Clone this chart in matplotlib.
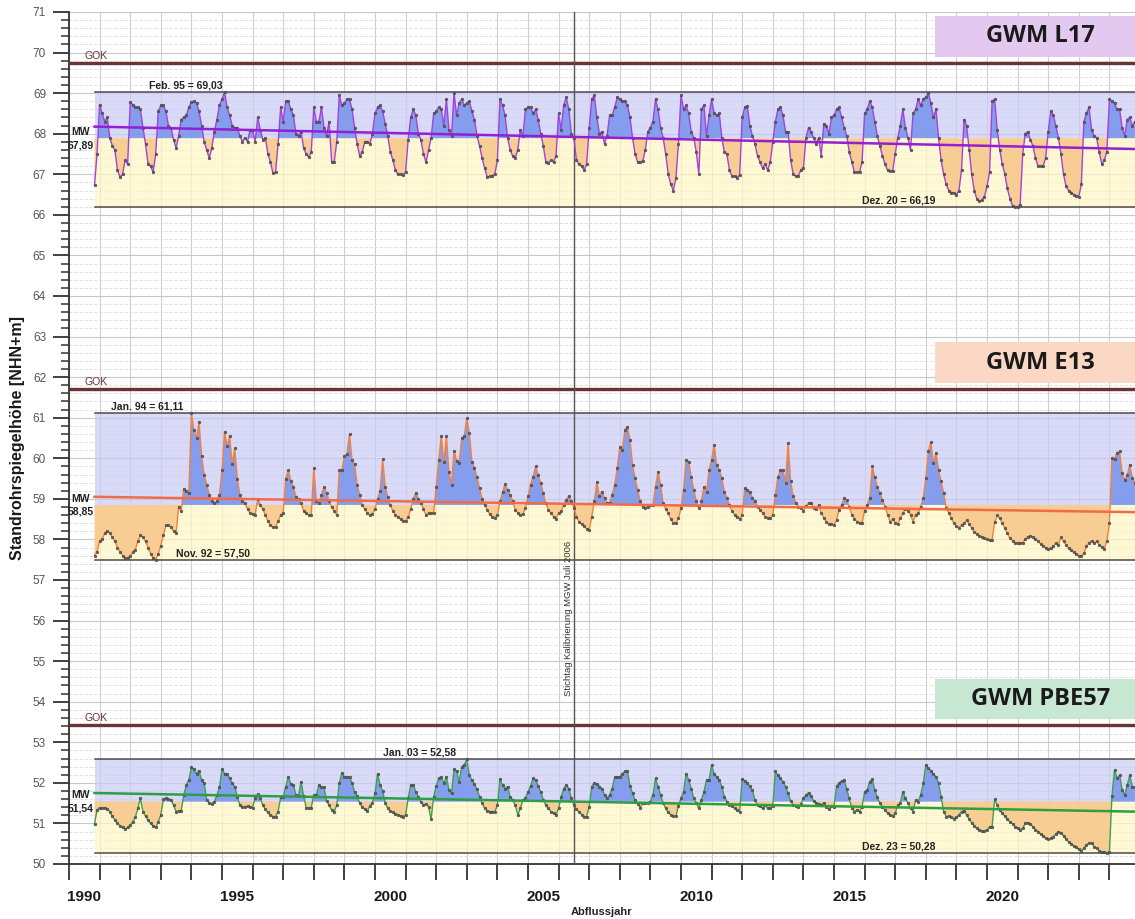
import numpy as np
import matplotlib
matplotlib.use("Agg")
import matplotlib.pyplot as plt
from matplotlib.patches import Rectangle
from matplotlib.ticker import MultipleLocator, FixedLocator

plt.rcParams['font.family'] = ['Liberation Sans', 'DejaVu Sans']

# monthly readings, first value Nov 1990, one row per Abflussjahr (Nov..Oct)
start_year = 1990 + 10 / 12.

l17_levels = [
    66.73, 67.50, 68.72, 68.50, 68.30, 68.40, 67.90, 67.70, 67.60, 67.10, 66.93, 67.00,  # 1991
    67.35, 67.25, 68.77, 68.72, 68.65, 68.65, 68.60, 68.15, 67.75, 67.25, 67.20, 67.05,  # 1992
    67.50, 68.55, 68.70, 68.70, 68.55, 68.20, 68.15, 67.85, 67.65, 67.95, 68.35, 68.40,  # 1993
    68.45, 68.65, 68.78, 68.80, 68.75, 68.55, 68.20, 67.80, 67.60, 67.40, 67.65, 68.05,  # 1994
    68.35, 68.70, 68.85, 69.03, 68.65, 68.45, 68.20, 68.15, 68.15, 67.95, 67.80, 67.90,  # 1995
    67.80, 68.10, 68.10, 67.80, 68.40, 68.10, 67.85, 67.90, 67.50, 67.30, 67.02, 67.05,  # 1996
    67.75, 68.65, 68.30, 68.80, 68.80, 68.60, 68.45, 68.00, 67.95, 68.05, 67.65, 67.50,  # 1997
    67.42, 67.55, 68.65, 68.30, 68.30, 68.65, 68.15, 67.95, 68.30, 67.30, 67.30, 67.80,  # 1998
    68.95, 68.70, 68.75, 68.85, 68.85, 68.60, 68.15, 67.75, 67.45, 67.55, 67.80, 67.80,  # 1999
    67.75, 68.00, 68.50, 68.65, 68.70, 68.55, 68.25, 67.95, 67.55, 67.35, 67.10, 67.00,  # 2000
    67.00, 66.98, 67.05, 67.85, 68.40, 68.60, 68.45, 68.00, 67.85, 67.50, 67.30, 67.60,  # 2001
    67.90, 68.50, 68.55, 68.65, 68.60, 68.20, 68.85, 68.10, 67.95, 69.00, 68.45, 68.75,  # 2002
    68.85, 68.70, 68.75, 68.80, 68.55, 68.35, 67.95, 67.70, 67.40, 67.15, 66.93, 66.95,  # 2003
    66.97, 67.00, 67.35, 68.85, 68.70, 68.45, 67.90, 67.60, 67.45, 67.40, 67.60, 68.10,  # 2004
    67.95, 68.60, 68.65, 68.65, 68.50, 68.60, 68.35, 68.00, 67.70, 67.30, 67.28, 67.35,  # 2005
    67.30, 67.45, 68.50, 68.10, 68.70, 68.90, 68.60, 68.00, 67.90, 67.35, 67.25, 67.20,  # 2006
    67.10, 67.25, 68.15, 68.85, 68.95, 68.40, 68.00, 68.05, 67.75, 67.95, 68.45, 68.45,  # 2007
    68.65, 68.90, 68.85, 68.80, 68.80, 68.70, 68.40, 67.90, 67.50, 67.30, 67.30, 67.32,  # 2008
    67.60, 68.05, 68.15, 68.30, 68.85, 68.60, 68.15, 67.90, 67.50, 67.00, 66.75, 66.60,  # 2009
    66.90, 67.75, 68.95, 68.60, 68.70, 68.50, 68.05, 67.90, 67.55, 67.00, 68.60, 68.70,  # 2010
    67.95, 68.45, 68.85, 68.50, 68.45, 68.50, 67.90, 67.55, 67.50, 67.10, 66.95, 66.95,  # 2011
    66.92, 66.98, 68.40, 68.65, 68.68, 68.20, 67.95, 67.75, 67.45, 67.30, 67.15, 67.25,  # 2012
    67.10, 67.30, 67.80, 68.30, 68.60, 68.65, 68.45, 68.05, 68.05, 67.35, 67.00, 66.95,  # 2013
    66.97, 67.10, 67.15, 67.90, 68.15, 68.05, 67.90, 67.75, 67.90, 67.45, 68.25, 68.20,  # 2014
    68.00, 68.40, 68.45, 68.60, 68.65, 68.40, 68.15, 67.95, 67.55, 67.30, 67.05, 67.05,  # 2015
    67.05, 67.30, 68.50, 68.60, 68.80, 68.65, 68.30, 67.95, 67.70, 67.45, 67.25, 67.10,  # 2016
    67.08, 67.08, 67.50, 67.90, 68.20, 68.60, 68.15, 67.90, 67.60, 68.50, 68.60, 68.85,  # 2017
    68.70, 68.85, 68.90, 69.00, 68.75, 68.40, 68.60, 67.90, 67.35, 67.00, 66.75, 66.60,  # 2018
    66.55, 66.55, 66.50, 66.60, 67.10, 68.35, 68.20, 67.60, 67.00, 66.60, 66.40, 66.33,  # 2019
    66.37, 66.45, 66.70, 67.05, 68.80, 68.85, 68.10, 67.60, 67.25, 67.00, 66.65, 66.40,  # 2020
    66.22, 66.19, 66.20, 66.25, 67.50, 68.00, 68.05, 67.85, 67.70, 67.40, 67.20, 67.20,  # 2021
    67.20, 67.40, 68.05, 68.55, 68.45, 68.20, 67.90, 67.50, 67.00, 66.70, 66.60, 66.55,  # 2022
    66.50, 66.47, 66.45, 66.75, 68.30, 68.50, 68.65, 68.10, 67.95, 67.90, 67.55, 67.25,  # 2023
    67.35, 67.55, 68.85, 68.80, 68.75, 68.60, 68.60, 68.15, 67.95, 68.35, 68.40, 68.20,  # 2024
    68.30,
]

e13_levels = [
    57.60, 57.70, 57.97, 58.00, 58.15, 58.20, 58.15, 58.05, 57.95, 57.80, 57.70, 57.60,  # 1991
    57.55, 57.55, 57.60, 57.68, 57.75, 57.95, 58.10, 58.05, 57.95, 57.80, 57.65, 57.55,  # 1992
    57.50, 57.65, 57.85, 58.10, 58.35, 58.35, 58.30, 58.20, 58.15, 58.80, 58.70, 59.25,  # 1993
    59.20, 59.15, 61.11, 60.70, 60.50, 60.90, 60.05, 59.60, 59.35, 59.10, 58.95, 58.90,  # 1994
    58.95, 59.10, 59.70, 60.65, 60.30, 60.55, 59.85, 60.25, 59.50, 59.10, 58.95, 58.90,  # 1995
    58.75, 58.65, 58.62, 58.60, 59.00, 58.85, 58.75, 58.60, 58.45, 58.35, 58.30, 58.30,  # 1996
    58.45, 58.60, 58.65, 59.50, 59.70, 59.45, 59.30, 59.05, 59.00, 58.90, 58.70, 58.65,  # 1997
    58.60, 58.60, 59.75, 58.95, 58.90, 59.10, 59.30, 59.15, 58.95, 58.80, 58.70, 58.60,  # 1998
    59.70, 59.70, 60.05, 60.10, 60.60, 59.95, 59.85, 59.35, 59.10, 58.85, 58.75, 58.65,  # 1999
    58.60, 58.62, 58.75, 59.00, 59.20, 59.98, 59.30, 59.05, 58.85, 58.70, 58.60, 58.55,  # 2000
    58.50, 58.45, 58.45, 58.55, 58.75, 59.00, 59.15, 59.00, 58.90, 58.75, 58.60, 58.65,  # 2001
    58.65, 58.65, 59.30, 59.95, 60.55, 59.90, 60.55, 59.65, 59.35, 60.18, 59.94, 59.88,  # 2002
    60.50, 60.54, 60.99, 60.62, 59.92, 59.77, 59.53, 59.26, 59.00, 58.85, 58.73, 58.62,  # 2003
    58.56, 58.54, 58.59, 58.94, 59.16, 59.37, 59.22, 59.10, 58.94, 58.73, 58.65, 58.59,  # 2004
    58.63, 58.77, 59.06, 59.35, 59.55, 59.80, 59.59, 59.39, 59.14, 58.89, 58.73, 58.65,  # 2005
    58.56, 58.51, 58.65, 58.69, 58.85, 58.98, 59.07, 58.94, 58.77, 58.56, 58.44, 58.38,  # 2006
    58.32, 58.26, 58.24, 58.56, 58.94, 59.41, 59.07, 59.18, 59.02, 58.89, 58.91, 59.10,  # 2007
    59.35, 59.76, 60.29, 60.21, 60.70, 60.78, 60.45, 59.84, 59.51, 59.22, 58.94, 58.81,  # 2008
    58.77, 58.81, 58.85, 58.85, 59.30, 59.67, 59.35, 58.89, 58.75, 58.65, 58.50, 58.40,  # 2009
    58.40, 58.52, 58.77, 59.22, 59.96, 59.92, 59.55, 59.22, 58.94, 58.77, 58.94, 59.30,  # 2010
    59.18, 59.71, 59.96, 60.33, 59.84, 59.71, 59.51, 59.18, 59.02, 58.85, 58.69, 58.61,  # 2011
    58.56, 58.50, 58.61, 59.26, 59.22, 59.18, 59.02, 58.94, 58.81, 58.73, 58.65, 58.56,  # 2012
    58.54, 58.52, 58.60, 59.10, 59.55, 59.70, 59.71, 59.39, 60.37, 59.43, 59.06, 58.91,  # 2013
    58.81, 58.77, 58.71, 58.83, 58.89, 58.91, 58.77, 58.75, 58.85, 58.66, 58.52, 58.44,  # 2014
    58.38, 58.38, 58.36, 58.48, 58.73, 58.85, 59.02, 58.96, 58.81, 58.61, 58.51, 58.44,  # 2015
    58.40, 58.40, 58.71, 58.85, 59.02, 59.80, 59.53, 59.30, 59.14, 58.98, 58.81, 58.61,  # 2016
    58.44, 58.50, 58.40, 58.38, 58.52, 58.65, 58.75, 58.71, 58.61, 58.44, 58.61, 58.65,  # 2017
    58.81, 59.02, 59.51, 60.17, 60.39, 59.88, 60.14, 59.71, 59.43, 59.14, 58.77, 58.66,  # 2018
    58.52, 58.40, 58.32, 58.29, 58.36, 58.40, 58.47, 58.38, 58.28, 58.19, 58.14, 58.09,  # 2019
    58.07, 58.03, 58.01, 57.99, 57.99, 58.42, 58.59, 58.52, 58.40, 58.28, 58.15, 58.03,  # 2020
    57.97, 57.92, 57.91, 57.90, 57.91, 58.01, 58.07, 58.09, 58.06, 58.01, 57.95, 57.89,  # 2021
    57.84, 57.80, 57.77, 57.78, 57.83, 57.91, 57.87, 58.05, 57.95, 57.87, 57.78, 57.73,  # 2022
    57.68, 57.64, 57.60, 57.58, 57.66, 57.83, 57.92, 57.97, 57.91, 57.95, 57.87, 57.81,  # 2023
    57.77, 57.95, 58.40, 60.00, 59.98, 60.14, 60.17, 59.63, 59.47, 59.59, 59.84, 59.51,  # 2024
    59.39,
]

pbe57_levels = [
    50.98, 51.33, 51.39, 51.37, 51.39, 51.35, 51.29, 51.18, 51.08, 51.00, 50.94, 50.90,  # 1991
    50.86, 50.90, 50.96, 51.04, 51.15, 51.37, 51.62, 51.29, 51.18, 51.08, 51.00, 50.94,  # 1992
    50.90, 51.04, 51.21, 51.59, 51.62, 51.60, 51.58, 51.45, 51.29, 51.31, 51.31, 51.70,  # 1993
    51.95, 52.07, 52.38, 52.33, 52.23, 52.30, 52.07, 51.99, 51.58, 51.51, 51.48, 51.54,  # 1994
    51.70, 51.89, 52.33, 52.23, 52.22, 52.11, 51.99, 51.91, 51.66, 51.45, 51.41, 51.41,  # 1995
    51.43, 51.40, 51.39, 51.62, 51.72, 51.62, 51.45, 51.35, 51.27, 51.21, 51.17, 51.17,  # 1996
    51.29, 51.64, 51.66, 51.91, 52.15, 51.97, 51.95, 51.70, 51.68, 52.03, 51.68, 51.39,  # 1997
    51.37, 51.39, 51.70, 51.70, 51.95, 51.89, 51.89, 51.56, 51.45, 51.33, 51.29, 51.45,  # 1998
    51.99, 52.25, 52.15, 52.15, 52.14, 51.99, 51.78, 51.68, 51.50, 51.41, 51.35, 51.31,  # 1999
    51.43, 51.51, 51.74, 52.23, 51.95, 51.80, 51.50, 51.37, 51.30, 51.27, 51.24, 51.21,  # 2000
    51.18, 51.17, 51.21, 51.62, 51.95, 51.95, 51.78, 51.66, 51.54, 51.45, 51.48, 51.41,  # 2001
    51.10, 51.66, 51.92, 52.11, 52.15, 51.99, 52.15, 51.82, 51.74, 52.33, 52.28, 52.03,  # 2002
    52.40, 52.44, 52.58, 52.19, 52.07, 51.97, 51.84, 51.66, 51.50, 51.37, 51.31, 51.29,  # 2003
    51.29, 51.29, 51.45, 52.09, 51.95, 51.86, 51.91, 51.66, 51.58, 51.45, 51.21, 51.37,  # 2004
    51.58, 51.62, 51.78, 51.92, 52.11, 52.07, 51.92, 51.78, 51.58, 51.45, 51.37, 51.29,  # 2005
    51.25, 51.21, 51.37, 51.66, 51.86, 51.95, 51.86, 51.62, 51.45, 51.35, 51.29, 51.22,  # 2006
    51.17, 51.17, 51.41, 51.91, 52.00, 51.97, 51.91, 51.86, 51.70, 51.62, 51.70, 51.86,  # 2007
    52.14, 52.15, 52.15, 52.23, 52.28, 52.30, 51.92, 51.74, 51.58, 51.48, 51.39, 51.50,  # 2008
    51.50, 51.51, 51.54, 51.70, 52.11, 51.91, 51.70, 51.50, 51.37, 51.27, 51.21, 51.18,  # 2009
    51.18, 51.43, 51.62, 51.78, 52.23, 52.07, 51.86, 51.62, 51.50, 51.37, 51.58, 51.78,  # 2010
    52.07, 52.07, 52.44, 52.22, 52.15, 52.07, 51.91, 51.66, 51.54, 51.45, 51.43, 51.37,  # 2011
    51.33, 51.29, 52.09, 52.05, 51.99, 51.92, 51.82, 51.58, 51.45, 51.43, 51.37, 51.45,  # 2012
    51.37, 51.37, 51.43, 52.28, 52.19, 52.11, 52.03, 51.91, 51.74, 51.56, 51.45, 51.43,  # 2013
    51.40, 51.48, 51.62, 51.70, 51.76, 51.68, 51.56, 51.50, 51.48, 51.45, 51.51, 51.41,  # 2014
    51.35, 51.43, 51.41, 51.92, 51.99, 52.05, 52.07, 51.84, 51.62, 51.37, 51.29, 51.33,  # 2015
    51.29, 51.41, 51.78, 51.82, 52.03, 52.09, 51.82, 51.64, 51.50, 51.41, 51.33, 51.25,  # 2016
    51.21, 51.18, 51.25, 51.45, 51.50, 51.78, 51.62, 51.50, 51.37, 51.29, 51.58, 51.54,  # 2017
    51.70, 51.99, 52.44, 52.36, 52.30, 52.22, 52.15, 51.99, 51.66, 51.29, 51.17, 51.18,  # 2018
    51.15, 51.12, 51.15, 51.21, 51.29, 51.31, 51.21, 51.10, 51.02, 50.94, 50.88, 50.84,  # 2019
    50.82, 50.82, 50.84, 50.92, 50.92, 51.59, 51.45, 51.33, 51.25, 51.18, 51.10, 51.04,  # 2020
    50.99, 50.92, 50.88, 50.84, 50.88, 51.00, 51.02, 50.99, 50.92, 50.85, 50.80, 50.74,  # 2021
    50.69, 50.63, 50.61, 50.63, 50.67, 50.74, 50.80, 50.77, 50.69, 50.61, 50.55, 50.49,  # 2022
    50.44, 50.41, 50.36, 50.33, 50.39, 50.47, 50.52, 50.51, 50.43, 50.39, 50.33, 50.30,  # 2023
    50.29, 50.28, 50.29, 51.68, 52.32, 52.11, 52.19, 51.82, 51.70, 51.95, 52.19, 51.91,  # 2024
    51.89,
]

names = ['GWM L17', 'GWM E13', 'GWM PBE57']
gok = [69.75, 61.71, 53.42]
mw = [67.89, 58.85, 51.54]
hw = [69.03, 61.11, 52.58]
nw = [66.19, 57.50, 50.28]
mw_labels = ['67,89', '58,85', '51,54']
hw_labels = ['Feb. 95 = 69,03', 'Jan. 94 = 61,11', 'Jan. 03 = 52,58']
nw_labels = ['Dez. 20 = 66,19', 'Nov. 92 = 57,50', 'Dez. 23 = 50,28']

line_colors = ['#A542DA', '#F2813E', '#40A04C']
trend_colors = ['#9320D2', '#F26B47', '#2C9E45']
box_colors = ['#E3C8EF', '#FBD8C3', '#C8E7D3']

# label placement (x in years)
hw_label_x = [1993.8, 1992.55, 2001.45]
nw_label_x = [2017.1, 1994.7, 2017.1]

fig = plt.figure(figsize=(11.35, 9.19), dpi=100)
ax = fig.add_axes([69 / 1135, 55 / 919, 1 - 69 / 1135, 852 / 919])

x_end = 1990 + (1135 - 69) / 30.6
ax.set_xlim(1990, x_end)
ax.set_ylim(50, 71)

series = [l17_levels, e13_levels, pbe57_levels]
for k, levels in enumerate(series):
    v = np.array(levels)
    t = start_year + np.arange(len(v)) / 12.
    t0 = t[0]

    # background bands
    ax.fill_between([t0, x_end], mw[k], hw[k], color='#CACAF6', alpha=0.7, lw=0, zorder=1)
    ax.fill_between([t0, x_end], nw[k], mw[k], color='#FFF6C2', alpha=0.7, lw=0, zorder=1)

    # deviation from mean
    ax.fill_between(t, v, mw[k], where=v >= mw[k], interpolate=True,
                    color='#7B97EC', alpha=0.9, lw=0, zorder=2)
    ax.fill_between(t, v, mw[k], where=v <= mw[k], interpolate=True,
                    color='#F8C98C', alpha=0.9, lw=0, zorder=2)

    ax.plot([t0, x_end], [hw[k], hw[k]], color='#4A4A4A', lw=1.1, zorder=3)
    ax.plot([t0, x_end], [nw[k], nw[k]], color='#4A4A4A', lw=1.1, zorder=3)
    ax.axhline(gok[k], color='#6A3434', lw=2.4, zorder=3)

    ax.plot(t, v, color=line_colors[k], lw=1.0, marker='o', ms=2.0,
            mfc='#5E5E5E', mec='#3E3E3E', mew=0.3, zorder=4)

    coef = np.polyfit(t, v, 1)
    ax.plot([t[0], t[-1]], np.polyval(coef, [t[0], t[-1]]),
            color=trend_colors[k], lw=1.8, zorder=5)

    ax.text(1990.9, gok[k] + 0.17, 'GOK', color='#6A3434', fontsize=7.5,
            ha='center', va='center', zorder=6)
    ax.text(1990.38, mw[k] + 0.15, 'MW', fontsize=7.5, fontweight='bold',
            color='#222222', ha='center', va='center', zorder=6)
    ax.text(1990.38, mw[k] - 0.17, mw_labels[k], fontsize=7.5, fontweight='bold',
            color='#222222', ha='center', va='center', zorder=6)
    ax.text(hw_label_x[k], hw[k] + 0.16, hw_labels[k], fontsize=7.5, fontweight='bold',
            color='#222222', ha='center', va='center', zorder=6)
    ax.text(nw_label_x[k], nw[k] + 0.16, nw_labels[k], fontsize=7.5, fontweight='bold',
            color='#222222', ha='center', va='center', zorder=6)

    # station name box
    box_top = gok[k] + 1.15
    ax.add_patch(Rectangle((2018.3, box_top - 1.0), 8, 1.0, facecolor=box_colors[k],
                           edgecolor='none', zorder=6))
    ax.text(2021.75, box_top - 0.5, names[k], fontsize=17, fontweight='bold',
            family=['Open Sans', 'DejaVu Sans'], color='#1A1A1A',
            ha='center', va='center', zorder=7)

# calibration date
ax.axvline(2006.5, color='#555555', lw=1.0, zorder=3)
ax.text(2006.31, 56.06, 'Stichtag Kalibrierung MGW Juli 2006', rotation=90,
        fontsize=6.8, color='#333333', ha='center', va='center', zorder=6)

# axes styling
ax.xaxis.set_major_locator(FixedLocator(np.arange(1990, 2025)))
ax.xaxis.set_minor_locator(FixedLocator(np.arange(1990, 2025, 5) + 0.5))
ax.xaxis.set_major_formatter(plt.NullFormatter())
ax.xaxis.set_minor_formatter(plt.FixedFormatter([str(y) for y in range(1990, 2025, 5)]))
ax.yaxis.set_major_locator(MultipleLocator(1))
ax.yaxis.set_minor_locator(MultipleLocator(0.2))

ax.tick_params(axis='x', which='major', length=11.5, width=1.3, color='#333333', direction='out')
ax.tick_params(axis='x', which='minor', length=0, pad=19, labelsize=11,
               labelcolor='#1A1A1A')
for lab in ax.get_xticklabels(minor=True):
    lab.set_fontweight('bold')
ax.tick_params(axis='y', which='major', length=11.5, width=1.3, color='#333333',
               labelsize=8.5, labelcolor='#555555', pad=5)
ax.tick_params(axis='y', which='minor', length=5.8, width=1.1, color='#333333')

ax.grid(False)
ax.xaxis.grid(True, which='major', color='#CFCFCF', lw=0.8, zorder=0)
ax.yaxis.grid(True, which='major', color='#C8C8C8', lw=0.8, zorder=0)
ax.yaxis.grid(True, which='minor', color='#DADADA', lw=0.6, ls=(0, (4, 2)), zorder=0)
ax.set_axisbelow(True)

for side in ['top', 'right']:
    ax.spines[side].set_visible(False)
for side in ['left', 'bottom']:
    ax.spines[side].set_color('#333333')
    ax.spines[side].set_linewidth(1.3)

ax.set_ylabel('Standrohrspiegelhöhe [NHN+m]', fontsize=11.5, fontweight='bold',
              color='#1A1A1A')
ax.yaxis.set_label_coords(-0.041, 0.5)
ax.set_xlabel('Abflussjahr', fontsize=8, fontweight='bold', color='#222222')
ax.xaxis.set_label_coords(0.5, -0.056)
ax.xaxis.label.set_va('center')

fig.savefig('out.png', dpi=100)
